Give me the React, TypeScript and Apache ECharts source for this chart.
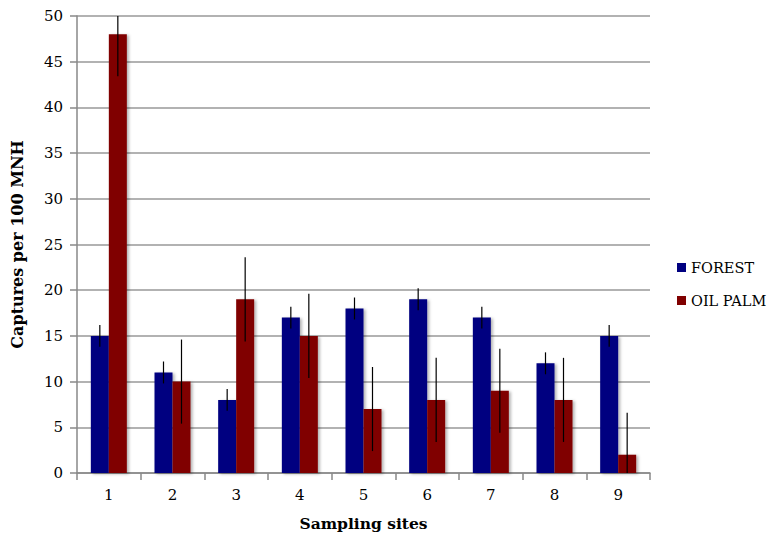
import React, { useEffect, useRef } from "react";
import * as echarts from "echarts";

const sites = ["1", "2", "3", "4", "5", "6", "7", "8", "9"];
const forest = [15, 11, 8, 17, 18, 19, 17, 12, 15];
const forestErr = [1.2, 1.2, 1.2, 1.2, 1.2, 1.2, 1.2, 1.2, 1.2];
const oilPalm = [48, 10, 19, 15, 7, 8, 9, 8, 2];
const oilPalmErr = [4.6, 4.6, 4.6, 4.6, 4.6, 4.6, 4.6, 4.6, 4.6];
const yTicks = [0, 5, 10, 15, 20, 25, 30, 35, 40, 45, 50];

const FONT = "DejaVu Serif";
const BAR_W = 18;

export default function App() {
  const ref = useRef<HTMLDivElement>(null);
  useEffect(() => {
    document.body.style.margin = "0";
    const chart = echarts.init(ref.current!, null, { renderer: "svg" });
    const yMin = yTicks[0];
    const yMax = yTicks[yTicks.length - 1];
    const errData = (vals: number[], errs: number[]) =>
      vals.map((v, i) => [i, Math.max(yMin, v - errs[i]), Math.min(yMax, v + errs[i])]);
    const errSeries = (name: string, vals: number[], errs: number[], offset: number) => ({
      type: "custom",
      name: name + "_err",
      data: errData(vals, errs),
      z: 10,
      silent: true,
      renderItem: (params: any, api: any) => {
        const lo = api.coord([api.value(0), api.value(1)]);
        const hi = api.coord([api.value(0), api.value(2)]);
        const x = lo[0] + offset;
        return {
          type: "line",
          shape: { x1: x, y1: lo[1], x2: x, y2: hi[1] },
          style: { stroke: "#000", lineWidth: 1.2 },
        };
      },
    });
    chart.setOption({
      animation: false,
      backgroundColor: "#fff",
      textStyle: { fontFamily: FONT },
      grid: { left: 77, right: 118, top: 16, bottom: 63 },
      legend: {
        orient: "vertical",
        left: 672,
        top: 255,
        itemWidth: 9,
        itemHeight: 9,
        itemGap: 18,
        icon: "rect",
        data: ["FOREST", "OIL PALM"],
        textStyle: { fontFamily: FONT, fontSize: 14.5, color: "#000" },
      },
      xAxis: {
        type: "category",
        data: sites,
        name: "Sampling sites",
        nameLocation: "middle",
        nameGap: 42,
        nameTextStyle: { fontFamily: FONT, fontSize: 15.5, fontWeight: "bold", color: "#000" },
        axisLine: { lineStyle: { color: "#888", width: 1.5 } },
        axisTick: { show: true, length: 7, lineStyle: { color: "#888", width: 1.5 } },
        axisLabel: { fontFamily: FONT, fontSize: 15, color: "#000", margin: 14 },
      },
      yAxis: {
        type: "value",
        min: yMin,
        max: yMax,
        interval: 5,
        name: "Captures per 100 MNH",
        nameLocation: "middle",
        nameGap: 52,
        nameTextStyle: { fontFamily: FONT, fontSize: 16, fontWeight: "bold", color: "#000" },
        axisLine: { show: true, lineStyle: { color: "#888", width: 1.5 } },
        axisTick: { show: true, length: 7, lineStyle: { color: "#888", width: 1.5 } },
        axisLabel: { fontFamily: FONT, fontSize: 15, color: "#000", margin: 14 },
        splitLine: { lineStyle: { color: "#999", width: 1.5 } },
      },
      series: [
        {
          type: "bar",
          name: "FOREST",
          data: forest,
          barWidth: BAR_W,
          barGap: "0%",
          itemStyle: {
            color: "#000080",
            shadowBlur: 3,
            shadowColor: "rgba(0,0,0,0.3)",
            shadowOffsetX: 2,
            shadowOffsetY: 1,
          },
        },
        {
          type: "bar",
          name: "OIL PALM",
          data: oilPalm,
          barWidth: BAR_W,
          barGap: "0%",
          itemStyle: {
            color: "#800000",
            shadowBlur: 3,
            shadowColor: "rgba(0,0,0,0.3)",
            shadowOffsetX: 2,
            shadowOffsetY: 1,
          },
        },
        errSeries("FOREST", forest, forestErr, -BAR_W / 2),
        errSeries("OIL PALM", oilPalm, oilPalmErr, BAR_W / 2),
      ],
    });
    return () => chart.dispose();
  }, []);
  return <div ref={ref} style={{ width: 768, height: 536 }} />;
}
